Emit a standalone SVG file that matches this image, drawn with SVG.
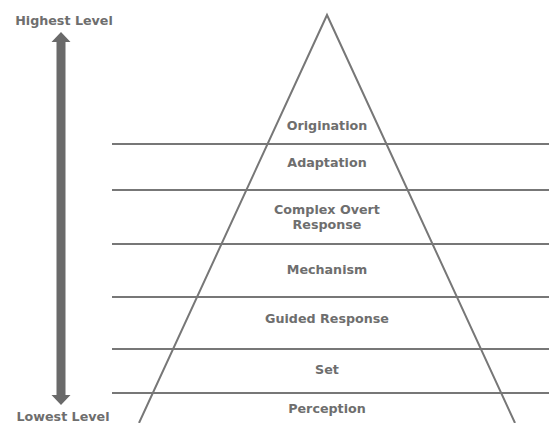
<svg xmlns="http://www.w3.org/2000/svg" width="549" height="423" viewBox="0 0 549 423">
<style>
text{font-family:"DejaVu Sans","Verdana",sans-serif;font-weight:bold;font-size:12.7px;fill:#6e6e6e;text-anchor:middle}
.ln{stroke:#777;stroke-width:2;fill:none}
</style>
<rect width="549" height="423" fill="#fff"/>
<g id="levels">
<text x="64" y="25">Highest Level</text>
<text x="63" y="421">Lowest Level</text>
<path id="arrow" d="M56.5,42 L51.5,42 L61,32 L70.5,42 L65.5,42 L65.5,395 L70.5,395 L61,405 L51.5,395 L56.5,395 Z" fill="#6a6a6a"/>
</g>
<g id="connectors">
<path class="ln" d="M139,423 L327,15 L515,423"/>
<line class="ln" x1="112" y1="144" x2="549" y2="144"/>
<line class="ln" x1="112" y1="190" x2="549" y2="190"/>
<line class="ln" x1="112" y1="244" x2="549" y2="244"/>
<line class="ln" x1="112" y1="297" x2="549" y2="297"/>
<line class="ln" x1="112" y1="349" x2="549" y2="349"/>
<line class="ln" x1="112" y1="393" x2="549" y2="393"/>
</g>
<g id="origination"><text x="327" y="130">Origination</text></g>
<g id="adaptation"><text x="327" y="167">Adaptation</text></g>
<g id="complex"><text x="327" y="214">Complex Overt</text><text x="327" y="229">Response</text></g>
<g id="mechanism"><text x="327" y="274">Mechanism</text></g>
<g id="guided"><text x="327" y="323">Guided Response</text></g>
<g id="set"><text x="327" y="374">Set</text></g>
<g id="perception"><text x="327" y="413">Perception</text></g>
</svg>
